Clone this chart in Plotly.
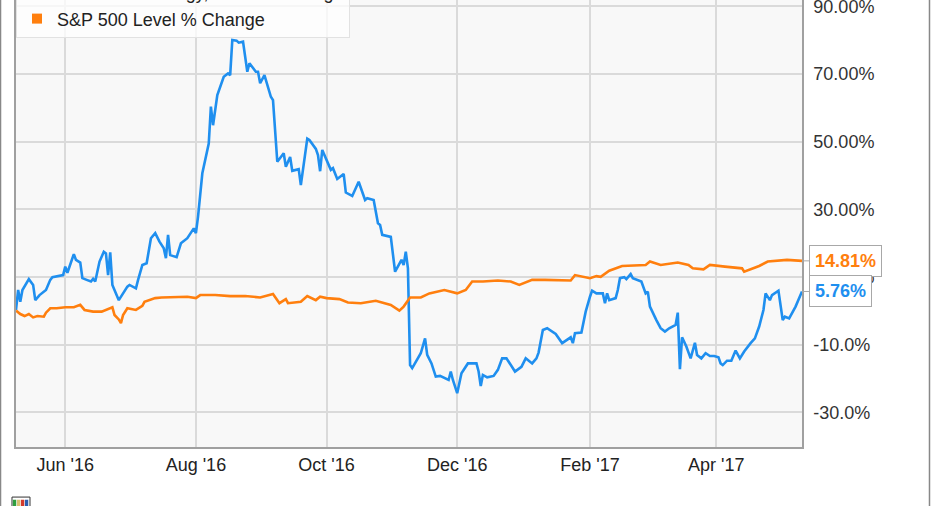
import plotly.graph_objects as go

# ---- data ----
stock_name = "Amkor Technology, Price % Change"
spx_name = "S&P 500 Level % Change"

stock_dates = [
    "2016-05-09", "2016-05-10", "2016-05-11", "2016-05-12", "2016-05-15", "2016-05-17", "2016-05-18",
    "2016-05-20", "2016-05-23", "2016-05-25", "2016-05-26", "2016-05-31", "2016-06-01", "2016-06-02",
    "2016-06-05", "2016-06-06", "2016-06-08", "2016-06-09", "2016-06-11", "2016-06-13", "2016-06-14",
    "2016-06-15", "2016-06-17", "2016-06-19", "2016-06-20", "2016-06-21", "2016-06-22", "2016-06-23",
    "2016-06-26", "2016-06-28", "2016-06-30", "2016-07-01", "2016-07-04", "2016-07-05", "2016-07-06",
    "2016-07-07", "2016-07-09", "2016-07-11", "2016-07-13", "2016-07-15", "2016-07-17", "2016-07-18",
    "2016-07-19", "2016-07-20", "2016-07-23", "2016-07-25", "2016-07-28", "2016-07-31", "2016-08-01",
    "2016-08-02", "2016-08-04", "2016-08-07", "2016-08-08", "2016-08-09", "2016-08-11", "2016-08-14",
    "2016-08-16", "2016-08-17", "2016-08-18", "2016-08-20", "2016-08-21", "2016-08-23", "2016-08-25",
    "2016-08-26", "2016-08-29", "2016-08-30", "2016-08-31", "2016-09-02", "2016-09-05", "2016-09-06",
    "2016-09-08", "2016-09-11", "2016-09-12", "2016-09-14", "2016-09-15", "2016-09-18", "2016-09-19",
    "2016-09-22", "2016-09-23", "2016-09-26", "2016-09-27", "2016-09-28", "2016-09-29", "2016-10-03",
    "2016-10-04", "2016-10-06", "2016-10-09", "2016-10-10", "2016-10-13", "2016-10-16", "2016-10-19",
    "2016-10-20", "2016-10-23", "2016-10-25", "2016-10-26", "2016-10-27", "2016-10-31", "2016-11-02",
    "2016-11-05", "2016-11-06", "2016-11-07", "2016-11-08", "2016-11-09", "2016-11-10", "2016-11-14",
    "2016-11-16", "2016-11-17", "2016-11-19", "2016-11-21", "2016-11-23", "2016-11-27", "2016-11-28",
    "2016-11-29", "2016-12-01", "2016-12-03", "2016-12-06", "2016-12-10", "2016-12-11", "2016-12-12",
    "2016-12-13", "2016-12-15", "2016-12-18", "2016-12-20", "2016-12-22", "2016-12-24", "2016-12-26",
    "2016-12-28", "2016-12-31", "2017-01-02", "2017-01-05", "2017-01-07", "2017-01-08", "2017-01-10",
    "2017-01-12", "2017-01-16", "2017-01-19", "2017-01-21", "2017-01-23", "2017-01-24", "2017-01-25",
    "2017-01-28", "2017-01-30", "2017-02-01", "2017-02-02", "2017-02-04", "2017-02-07", "2017-02-08",
    "2017-02-09", "2017-02-10", "2017-02-13", "2017-02-14", "2017-02-15", "2017-02-17", "2017-02-18",
    "2017-02-20", "2017-02-21", "2017-02-25", "2017-02-27", "2017-02-28", "2017-03-01", "2017-03-04",
    "2017-03-06", "2017-03-08", "2017-03-10", "2017-03-13", "2017-03-14", "2017-03-15", "2017-03-16",
    "2017-03-18", "2017-03-20", "2017-03-22", "2017-03-23", "2017-03-25", "2017-03-27", "2017-03-29",
    "2017-03-31", "2017-04-02", "2017-04-03", "2017-04-04", "2017-04-06", "2017-04-08", "2017-04-10",
    "2017-04-12", "2017-04-14", "2017-04-17", "2017-04-19", "2017-04-21", "2017-04-23", "2017-04-24",
    "2017-04-26", "2017-04-27", "2017-04-30", "2017-05-02", "2017-05-03", "2017-05-05", "2017-05-08",
    "2017-05-11",
]
stock_values = [
    0.3, 6.2, 2.7, 6.2, 9.4, 7.7, 3.2,
    4.7, 6.2, 9.2, 10.0, 10.6, 13.1, 11.3,
    16.8, 15.1, 14.3, 9.7, 9.2, 8.7, 9.5,
    8.7, 14.6, 17.5, 17.0, 10.6, 17.3, 7.7,
    3.2, 5.2, 7.2, 7.7, 6.7, 9.2, 11.6,
    13.6, 14.1, 21.5, 23.0, 20.5, 18.5, 15.6,
    22.5, 16.5, 15.9, 20.0, 21.5, 24.4, 23.0,
    27.9, 40.7, 49.5, 60.4, 54.9, 63.8, 69.2,
    70.2, 69.7, 80.1, 79.9, 79.3, 79.6, 70.7,
    73.2, 70.7, 70.7, 67.3, 69.7, 63.3, 62.3,
    44.1, 46.6, 42.6, 45.5, 41.4, 41.9, 37.2,
    50.9, 50.5, 47.9, 46.1, 41.3, 47.6, 41.7,
    42.2, 39.0, 40.5, 35.0, 34.0, 38.2, 32.8,
    33.3, 32.8, 25.9, 25.4, 22.5, 21.9, 11.6,
    15.1, 13.6, 17.5, 12.6, -16.0, -16.9, -12.5,
    -8.1, -13.0, -15.5, -19.4, -19.2, -20.4, -17.9,
    -20.4, -24.3, -18.4, -15.5, -15.5, -17.9, -22.2,
    -18.9, -19.6, -19.2, -17.4, -14.0, -14.0, -16.0,
    -17.9, -16.5, -14.0, -15.5, -14.0, -12.3, -5.6,
    -5.1, -6.8, -9.5, -8.6, -7.8, -9.5, -6.6,
    -6.4, -0.2, 4.2, 6.0, 5.2, 5.2, 2.3,
    5.2, 3.2, 3.8, 6.2, 9.7, 10.0, 9.4,
    10.9, 9.7, 8.7, 5.2, 5.7, 1.3, -2.7,
    -5.1, -6.1, -5.1, -4.1, -0.5, -17.2, -7.8,
    -10.5, -14.0, -9.4, -13.0, -14.0, -12.5, -13.3,
    -13.3, -13.7, -15.5, -16.0, -14.7, -14.7, -11.7,
    -14.0, -12.0, -9.5, -8.1, -4.6, 0.3, 5.2,
    3.2, 4.7, 6.0, -2.7, -1.7, -2.2, 1.3,
    5.76,
]

spx_dates = [
    "2016-05-09", "2016-05-11", "2016-05-13", "2016-05-15", "2016-05-17", "2016-05-19", "2016-05-22",
    "2016-05-23", "2016-05-25", "2016-05-28", "2016-06-01", "2016-06-05", "2016-06-08", "2016-06-10",
    "2016-06-14", "2016-06-18", "2016-06-23", "2016-06-24", "2016-06-26", "2016-06-27", "2016-06-28",
    "2016-06-30", "2016-07-04", "2016-07-07", "2016-07-08", "2016-07-11", "2016-07-13", "2016-07-16",
    "2016-07-22", "2016-07-28", "2016-08-01", "2016-08-03", "2016-08-10", "2016-08-17", "2016-08-24",
    "2016-08-31", "2016-09-06", "2016-09-09", "2016-09-12", "2016-09-13", "2016-09-19", "2016-09-22",
    "2016-09-26", "2016-09-28", "2016-10-01", "2016-10-07", "2016-10-11", "2016-10-17", "2016-10-24",
    "2016-10-31", "2016-11-04", "2016-11-06", "2016-11-09", "2016-11-14", "2016-11-18", "2016-11-25",
    "2016-12-01", "2016-12-05", "2016-12-08", "2016-12-13", "2016-12-20", "2016-12-26", "2016-12-30",
    "2017-01-05", "2017-01-11", "2017-01-23", "2017-01-25", "2017-02-01", "2017-02-04", "2017-02-06",
    "2017-02-10", "2017-02-16", "2017-02-27", "2017-03-01", "2017-03-06", "2017-03-14", "2017-03-19",
    "2017-03-21", "2017-03-26", "2017-03-29", "2017-04-05", "2017-04-13", "2017-04-14", "2017-04-19",
    "2017-04-21", "2017-04-25", "2017-05-04", "2017-05-11",
]
spx_values = [
    0.1, -0.9, -1.5, -0.9, -1.9, -1.5, -1.7,
    -0.5, 0.8, 0.8, 1.1, 1.1, 1.8, 0.3,
    -0.2, -0.2, 1.1, -1.2, -2.5, -3.6, -1.2,
    0.8, 0.3, 1.5, 2.7, 3.5, 3.8, 4.0,
    4.2, 4.2, 3.8, 4.7, 4.7, 4.4, 4.4,
    4.0, 5.0, 2.3, 3.5, 2.3, 2.7, 4.4,
    3.2, 4.2, 3.8, 3.5, 2.5, 2.3, 3.0,
    1.8, 0.1, 1.3, 4.0, 4.0, 5.2, 6.2,
    5.2, 6.2, 8.7, 8.7, 9.0, 8.7, 7.7,
    9.2, 9.2, 9.0, 10.6, 9.7, 10.3, 10.1,
    11.9, 13.3, 13.6, 14.6, 13.6, 14.3, 13.6,
    12.6, 12.3, 13.6, 13.1, 12.6, 11.6, 12.9,
    13.3, 14.6, 15.1, 14.81,
]

x_tick_dates = ["2016-06-01", "2016-08-01", "2016-10-01", "2016-12-01", "2017-02-01", "2017-04-01"]
x_tick_labels = ["Jun '16", "Aug '16", "Oct '16", "Dec '16", "Feb '17", "Apr '17"]
y_tick_values = [-30, -10, 10, 30, 50, 70, 90]
y_tick_labels = ["-30.0%", "-10.0%", "10.00%", "30.00%", "50.00%", "70.00%", "90.00%"]

x_start = "2016-05-09"
x_end = "2017-05-11"
y_min, y_max = -40.2, 91.9

BLUE = "#1f8fef"
ORANGE = "#ff7f0e"
FONT = "Liberation Sans, Arial, sans-serif"

fig = go.Figure()

fig.add_trace(go.Scatter(x=stock_dates, y=stock_values, mode="lines",
                         line=dict(color=BLUE, width=2.6), showlegend=False, name=stock_name))
fig.add_trace(go.Scatter(x=spx_dates, y=spx_values, mode="lines",
                         line=dict(color=ORANGE, width=2.6), showlegend=False, name=spx_name))

# legend entries with square swatches
fig.add_trace(go.Scatter(x=[None], y=[None], mode="markers", name=stock_name,
                         marker=dict(symbol="square", size=10, color=BLUE)))
fig.add_trace(go.Scatter(x=[None], y=[None], mode="markers", name=spx_name,
                         marker=dict(symbol="square", size=10, color=ORANGE)))

# end-value callouts
for vals, col in ((spx_values, ORANGE), (stock_values, BLUE)):
    fig.add_annotation(
        x=x_end, y=vals[-1], xref="x", yref="y",
        text="<b>%.2f%%</b>" % vals[-1],
        showarrow=True, ax=7, ay=0, axref="pixel", ayref="pixel",
        arrowhead=0, arrowwidth=1, arrowcolor="#a8a8a8",
        xanchor="left", yanchor="middle",
        font=dict(family=FONT, size=18, color=col),
        bgcolor="white", bordercolor="#a8a8a8", borderwidth=1, borderpad=5,
    )

# outer frame of the picture
fig.add_shape(type="line", xref="paper", yref="paper", x0=-0.0197, x1=-0.0197, y0=-0.14, y1=1.0,
              line=dict(color="#888888", width=1.5))
fig.add_shape(type="line", xref="paper", yref="paper", x0=1.1622, x1=1.1622, y0=-0.14, y1=1.0,
              line=dict(color="#888888", width=1.5))

# small logo at the bottom-left corner
fig.add_shape(type="rect", xref="paper", yref="paper", x0=-0.0051, x1=0.0178, y0=-0.134, y1=-0.112,
              line=dict(color="#333333", width=1), fillcolor="white")
for i, c in enumerate(["#2e9e3e", "#d8c070", "#d33a2c", "#2a5db0"]):
    fig.add_shape(type="rect", xref="paper", yref="paper",
                  x0=-0.0040 + i * 0.0051, x1=-0.0040 + (i + 1) * 0.0051 - 0.0008,
                  y0=-0.134, y1=-0.118, line=dict(width=0), fillcolor=c)

fig.update_layout(
    width=931, height=506,
    margin=dict(l=16, r=129, t=0, b=59, autoexpand=False),
    paper_bgcolor="white",
    plot_bgcolor="#f8f8f8",
    font=dict(family=FONT, size=18, color="#222222"),
    showlegend=True,
    legend=dict(x=0, y=1.0604, xanchor="left", yanchor="top",
                bgcolor="rgba(255,255,255,0.75)", bordercolor="#e2e2e2", borderwidth=1,
                font=dict(family=FONT, size=18, color="#222222")),
    xaxis=dict(
        type="date", range=[x_start, x_end],
        tickvals=x_tick_dates, ticktext=x_tick_labels,
        showgrid=True, gridcolor="#dadada", gridwidth=1.5,
        showline=True, linecolor="#a0a0a0", linewidth=1.5,
        ticks="outside", ticklen=1, tickcolor="rgba(0,0,0,0)",
        zeroline=False, tickfont=dict(size=18, color="#222222"),
    ),
    yaxis=dict(
        side="right", range=[y_min, y_max],
        tickvals=y_tick_values, ticktext=y_tick_labels,
        showgrid=True, gridcolor="#dadada", gridwidth=1.5,
        showline=True, mirror=True, linecolor="#a0a0a0", linewidth=1.5,
        ticks="outside", ticklen=6, tickcolor="rgba(0,0,0,0)",
        ticklabeloverflow="allow",
        zeroline=False, tickfont=dict(size=18, color="#333333"),
    ),
)

fig.write_html("out.html", config={"displayModeBar": False},
               post_script="document.body.style.margin='0';")
